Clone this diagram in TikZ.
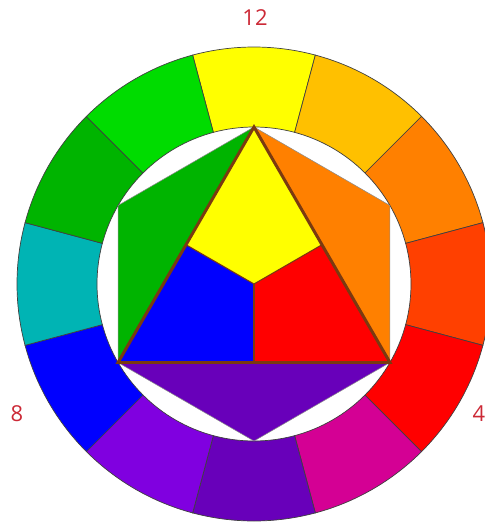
\documentclass[tikz,border=0pt]{standalone}
\usepackage{fontspec}
\setmainfont{Open Sans}
\usetikzlibrary{positioning}

\definecolor{cYellow}{RGB}{255,255,0}
\definecolor{cYelOr}{RGB}{255,192,0}
\definecolor{cOrange}{RGB}{255,128,0}
\definecolor{cRedOr}{RGB}{255,64,0}
\definecolor{cRed}{RGB}{255,0,0}
\definecolor{cMagenta}{RGB}{212,0,148}
\definecolor{cViolet}{RGB}{104,0,186}
\definecolor{cBlueVi}{RGB}{128,0,224}
\definecolor{cBlue}{RGB}{0,0,255}
\definecolor{cTeal}{RGB}{0,180,180}
\definecolor{cGreen}{RGB}{0,180,0}
\definecolor{cYelGr}{RGB}{0,220,0}
\definecolor{cBrown}{RGB}{122,58,16}
\definecolor{cLabel}{RGB}{204,41,54}

\begin{document}
\begin{tikzpicture}[
    segment/.style  = {draw=black!75, line width=0.4pt},
    hexpart/.style  = {draw=black!45, line width=0.3pt},
    divider/.style  = {draw=cBrown, line width=0.6pt},
    outline/.style  = {draw=cBrown, line width=1.7pt, line join=miter},
    hour/.style     = {text=cLabel, font=\fontsize{12.5}{15}\selectfont, inner sep=0pt},
]
\def\rout{4.74}
\def\rin{3.14}

\useasboundingbox (-5.08,-4.76) rectangle (4.62,5.68);

% outer ring, twelve hues
\foreach \ang/\col in {90/cYellow, 60/cYelOr, 30/cOrange, 0/cRedOr, -30/cRed, -60/cMagenta,
                       -90/cViolet, -120/cBlueVi, -150/cBlue, 180/cTeal, 150/cGreen, 120/cYelGr}
  \draw[segment, fill=\col] ({\ang-15}:\rout) arc[start angle=\ang-15, end angle=\ang+15, radius=\rout]
        -- ({\ang+15}:\rin) arc[start angle=\ang+15, end angle=\ang-15, radius=\rin] -- cycle;

% hexagon and triangle corners
\coordinate (O)  at (0,0);
\coordinate (T)  at (90:\rin);
\coordinate (L)  at (210:\rin);
\coordinate (R)  at (330:\rin);
\coordinate (HL) at (150:\rin);
\coordinate (HR) at (30:\rin);
\coordinate (HB) at (270:\rin);
\coordinate (ML) at (150:{\rin/2});
\coordinate (MR) at (30:{\rin/2});
\coordinate (MB) at (270:{\rin/2});

% secondary colours
\draw[hexpart, fill=cGreen]  (T) -- (HL) -- (L) -- cycle;
\draw[hexpart, fill=cOrange] (T) -- (HR) -- (R) -- cycle;
\draw[hexpart, fill=cViolet] (L) -- (HB) -- (R) -- cycle;

% primary colours
\fill[cYellow] (T) -- (MR) -- (O) -- (ML) -- cycle;
\fill[cBlue]   (ML) -- (O) -- (MB) -- (L) -- cycle;
\fill[cRed]    (MR) -- (O) -- (MB) -- (R) -- cycle;
\draw[divider] (ML) -- (O) -- (MR);
\draw[divider] (O) -- (MB);
\draw[outline] (T) -- (L) -- (R) -- cycle;

% clock labels
\node[hour] (h12) at (0.02,5.32)  {12};
\node[hour] (h8)  at (-4.74,-2.6) {8};
\node[hour] (h4)  at (4.5,-2.6)   {4};

\end{tikzpicture}
\end{document}
